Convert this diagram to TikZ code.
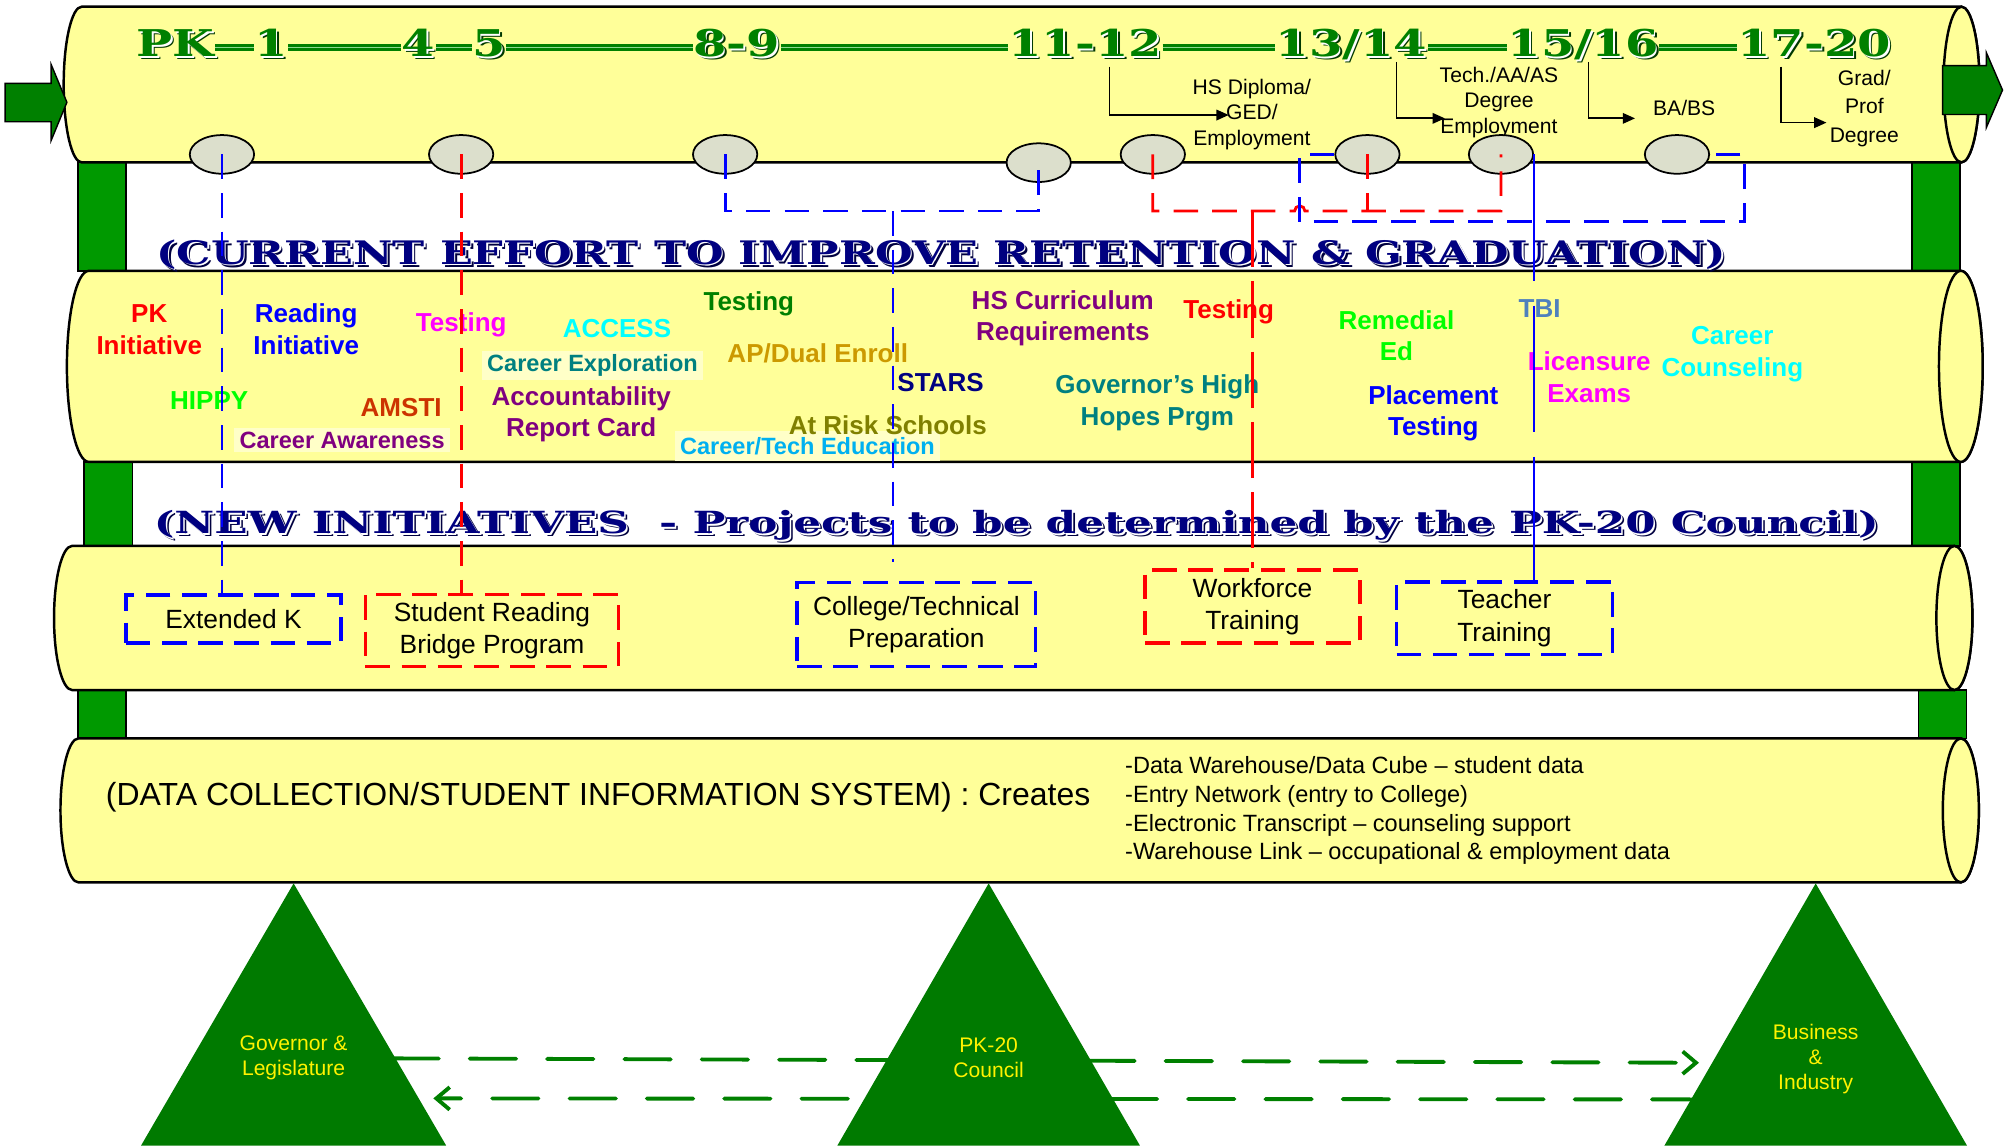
\documentclass[tikz,border=0pt]{standalone}
\usepackage{graphicx}
\usepackage{fontspec}
\setmainfont{Liberation Sans}
\newfontfamily\slabfont{DejaVu Serif}[FakeStretch=1.3]
\usetikzlibrary{shapes.geometric,arrows.meta}

\definecolor{tubeyellow}{HTML}{FFFF99}
\definecolor{palelabel}{HTML}{FFFFC8}
\definecolor{bargreen}{HTML}{009900}
\definecolor{arrowgreen}{HTML}{008000}
\definecolor{gradegreen}{HTML}{008000}
\definecolor{gradeshadow}{HTML}{003800}
\definecolor{gradelight}{HTML}{8FD88F}
\definecolor{headnavy}{HTML}{000080}
\definecolor{headshadow}{HTML}{000040}
\definecolor{stagegray}{HTML}{DCDFCC}
\definecolor{linkblue}{HTML}{0000FF}
\definecolor{linkred}{HTML}{FF0000}
\definecolor{pillargreen}{HTML}{007A00}
\definecolor{flowgreen}{HTML}{008000}
\definecolor{lbred}{HTML}{FF0000}
\definecolor{lbblue}{HTML}{0000FF}
\definecolor{lbmagenta}{HTML}{FF00FF}
\definecolor{lbcyan}{HTML}{00FFFF}
\definecolor{lbdkgreen}{HTML}{008000}
\definecolor{lbgreen}{HTML}{00FF00}
\definecolor{lbteal}{HTML}{008080}
\definecolor{lbgold}{HTML}{CC9900}
\definecolor{lbpurple}{HTML}{800080}
\definecolor{lbnavy}{HTML}{000080}
\definecolor{lbolive}{HTML}{808000}
\definecolor{lbsky}{HTML}{00B0F0}
\definecolor{lbrust}{HTML}{CC3300}
\definecolor{lbsteel}{HTML}{4F81BD}

% shadowed lettering
\newcommand{\emboss}[2]{%
  \rlap{\kern0.9pt\raisebox{-0.9pt}{\color{#1}#2}}%
  \rlap{\kern0.45pt\raisebox{-0.45pt}{\color{white}#2}}#2}

\tikzset{
  tube/.style={fill=tubeyellow, draw=black, line width=0.7pt},
  bar/.style={fill=bargreen, draw=black, line width=0.4pt},
  blockarrow/.style={fill=arrowgreen, draw=black, line width=0.4pt},
  heading/.style={font=\slabfont\bfseries, text=headnavy, inner sep=0pt},
  grade/.style={font=\slabfont\bfseries\fontsize{10.5}{12}\selectfont, text=gradegreen, inner sep=0pt, anchor=base},
  gradedash/.style={draw=gradegreen, line width=0.7pt, double=gradelight, double distance=0.5pt},
  outcome/.style={font=\fontsize{6}{7.2}\selectfont, align=center, inner sep=0pt},
  elbow/.style={line width=0.5pt, -{Triangle[length=3.5pt,width=3pt]}},
  stage/.style={ellipse, draw=black, line width=0.5pt, fill=stagegray, minimum width=18.3pt, minimum height=11pt, inner sep=0pt},
  effort/.style={font=\bfseries\fontsize{7.4}{9}\selectfont, align=center, inner sep=0pt},
  career/.style={effort, font=\bfseries\fontsize{6.7}{8}\selectfont, fill=palelabel, inner xsep=1.5pt, inner ysep=1pt},
  initbox/.style={line width=1pt, dash pattern=on 7pt off 3.3pt, font=\fontsize{7.5}{9.2}\selectfont, align=center, inner sep=0pt},
  bluebox/.style={initbox, draw=linkblue},
  redbox/.style={initbox, draw=linkred},
  bluelink/.style={draw=linkblue, line width=0.8pt, dash pattern=on 7pt off 4pt},
  redlink/.style={draw=linkred, line width=0.8pt, dash pattern=on 7pt off 4pt},
  bluelong/.style={draw=linkblue, line width=0.8pt, dash pattern=on 36pt off 7pt},
  redlong/.style={draw=linkred, line width=0.8pt, dash pattern=on 16pt off 4pt},
  datatext/.style={font=\fontsize{9.1}{11}\selectfont, inner sep=0pt},
  datalist/.style={font=\fontsize{6.7}{8.2}\selectfont, align=left, inner sep=0pt},
  pillar/.style={fill=pillargreen},
  pillartext/.style={text=yellow, font=\fontsize{6}{7.1}\selectfont, align=center, inner sep=0pt},
  flow/.style={draw=flowgreen, line width=1.1pt, line cap=round, dash pattern=on 13.2pt off 8.8pt, -{Straight Barb[length=3.8pt,width=6.4pt]}}
}

\begin{document}
\begin{tikzpicture}[x=0.366083pt, y=-0.366083pt]
    \path[use as bounding box, fill=white] (0,0) rectangle (1563,891.5);

    % green supports between the tubes
    \foreach \xa/\xb/\yt/\yb in {60.5/1486/126/210.5, 65.4/1486/359/424.3, 60.5/1491/536.3/573.9} {
        \path[bar] (\xa,\yt) rectangle (\xa+37.5,\yb);
        \path[bar] (\xb,\yt) rectangle (\xb+37.5,\yb);
    }

    % the four tubes
    \foreach \xl/\xr/\yt/\yb/\rx in {63.5/1524.5/5.2/126.2/14, 69/1524/210.5/359/17, 56/1519/424.3/536.3/14, 61/1524/573.9/685.8/14} {
        \pgfmathsetmacro\ry{(\yb-\yt)/2}
        \pgfmathsetmacro\ym{(\yb+\yt)/2}
        \path[tube] (\xl,\yt) -- (\xr,\yt) arc[start angle=-90, end angle=90, x radius=\rx, y radius=\ry]
            -- (\xl,\yb) arc[start angle=90, end angle=270, x radius=\rx, y radius=\ry] -- cycle;
        \path[tube] (\xr,\ym) ellipse[x radius=\rx, y radius=\ry];
    }

    % in and out arrows
    \path[blockarrow] (4,64.8) -- (39.7,64.8) -- (39.7,50) -- (52,79.5) -- (39.7,109.3) -- (39.7,94.6) -- (4,94.6) -- cycle;
    \path[blockarrow] (1509.8,51) -- (1543.9,51) -- (1543.9,41) -- (1556.4,70) -- (1543.9,99) -- (1543.9,89) -- (1509.8,89) -- cycle;

    % headings
    \node[heading, anchor=base west] (effort) at (121,205.5)
        {\resizebox{446.6pt}{7pt}{\emboss{headshadow}{(CURRENT EFFORT TO IMPROVE RETENTION \& GRADUATION)}}};
    \node[heading, anchor=base west] (newinit) at (119,415)
        {\resizebox{490.8pt}{6.6pt}{\emboss{headshadow}{(NEW INITIATIVES\ \ - Projects to be determined by the PK-20 Council)}}};

    % grade line
    \node[grade] (gpk) at (136.5,44) {\emboss{gradeshadow}{PK}};
    \node[grade] (g1) at (210.6,44) {\emboss{gradeshadow}{1}};
    \node[grade] (g4) at (325,44) {\emboss{gradeshadow}{4}};
    \node[grade] (g5) at (380,44) {\emboss{gradeshadow}{5}};
    \node[grade] (g89) at (572.5,44) {\emboss{gradeshadow}{8-9}};
    \node[grade] (g1112) at (843.5,44) {\emboss{gradeshadow}{11-12}};
    \node[grade] (g1314) at (1050.4,44) {\emboss{gradeshadow}{13/14}};
    \node[grade] (g1516) at (1230.5,44) {\emboss{gradeshadow}{15/16}};
    \node[grade] (g1720) at (1410,44) {\emboss{gradeshadow}{17-20}};
    \foreach \a/\b in {gpk/g1, g1/g4, g4/g5, g5/g89, g89/g1112, g1112/g1314, g1314/g1516, g1516/g1720}
        \draw[gradedash] ([yshift=2.6pt]\a.base east) -- ([yshift=2.6pt]\b.base west);

    % outcomes
    \node[outcome] (hsdip) at (973,89) {HS Diploma/\\GED/\\Employment};
    \node[outcome] (techdeg) at (1165,79.5) {Tech./AA/AS\\Degree\\Employment};
    \node[outcome] (babs) at (1309,84.2) {BA/BS};
    \node[outcome, font=\fontsize{6}{8.1}\selectfont] (grad) at (1449,84) {Grad/\\Prof\\Degree};
    \coordinate (es1) at (862.4,51.8);  \coordinate (et1) at (955,89.4);
    \coordinate (es2) at (1085.4,48);   \coordinate (et2) at (1123,92);
    \coordinate (es3) at (1234.7,48);   \coordinate (et3) at (1270.8,92);
    \coordinate (es4) at (1384.5,51.8); \coordinate (et4) at (1419.6,95.3);
    \foreach \i in {1,...,4}
        \draw[elbow] (es\i) |- (et\i);

    % stages
    \foreach \n/\x/\y in {1/172.5/120, 2/358.4/120, 3/563.6/120, 4/807.3/126.4, 5/896/120, 6/1062.8/120, 7/1166.6/120, 8/1303.4/120}
        \node[stage] (s\n) at (\x,\y) {};

    % current efforts
    \node[effort, text=lbred] (pkinit) at (116,256) {PK\\Initiative};
    \node[effort, text=lbblue] (readinit) at (238,256) {Reading\\Initiative};
    \node[effort, text=lbmagenta] (test1) at (358.5,252.6) {Testing};
    \node[effort, text=lbcyan] (access) at (479.5,255.7) {ACCESS};
    \node[effort, text=lbdkgreen] (test2) at (582,235.8) {Testing};
    \node[career, text=lbteal] (explore) at (460.5,283.7) {Career Exploration};
    \node[effort, text=lbgold] (apdual) at (635.6,274.6) {AP/Dual Enroll};
    \node[effort, text=lbnavy] (stars) at (731,297.4) {STARS};
    \node[effort, text=lbgreen] (hippy) at (162.6,311.4) {HIPPY};
    \node[effort, text=lbrust] (amsti) at (311.8,316.9) {AMSTI};
    \node[career, text=lbpurple] (aware) at (265.9,342) {Career Awareness};
    \node[effort, text=lbpurple] (account) at (451.7,322) {Accountability\\Report Card};
    \node[career, text=lbsky, inner ysep=1.8pt] (cartech) at (627.6,346.5) {Career/Tech Education};
    \node[effort, text=lbolive] (atrisk) at (690,330.4) {At Risk Schools};
    \node[effort, text=lbpurple] (hscurr) at (826,247.5) {HS Curriculum\\Requirements};
    \node[effort, text=lbred] (test3) at (955,242.3) {Testing};
    \node[effort, text=lbgreen] (remed) at (1085.4,261) {Remedial\\Ed};
    \node[effort, text=lbsteel] (tbi) at (1196.6,239.7) {TBI};
    \node[effort, text=lbcyan] (counsel) at (1346.4,275.3) {Career\\Counseling};
    \node[effort, text=lbteal] (hihopes) at (899.5,313) {Governor’s High\\Hopes Prgm};
    \node[effort, text=lbblue] (place) at (1114,321.3) {Placement\\Testing};
    \node[effort, text=lbmagenta] (licens) at (1235.2,293.4) {Licensure\\Exams};

    % new initiatives
    \node[bluebox, minimum width=61.3pt, minimum height=13.7pt] (extk) at (181.5,481) {Extended K};
    \node[redbox, minimum width=72pt, minimum height=20.5pt] (bridge) at (382.4,490) {Student Reading\\Bridge Program};
    \node[bluebox, minimum width=67.8pt, minimum height=24pt] (college) at (712.2,485.4) {College/Technical\\Preparation};
    \node[redbox, minimum width=61.1pt, minimum height=20.7pt] (workforce) at (973.4,471.3) {Workforce\\Training};
    \node[bluebox, minimum width=61.4pt, minimum height=20.5pt] (teacher) at (1169.3,480.5) {Teacher\\Training};

    % data collection
    \node[datatext, anchor=west] (dcs) at (81.8,620) {(DATA COLLECTION/STUDENT INFORMATION SYSTEM) : Creates};
    \node[datalist, anchor=west] (dlist) at (874,630) {-Data Warehouse/Data Cube – student data\\-Entry Network (entry to College)\\-Electronic Transcript – counseling support\\-Warehouse Link – occupational \& employment data};

    % links from the stages
    \draw[bluelink] (s1.center) -- (s1.center |- extk.north);
    \draw[redlink] (s2.center) -- (s2.center |- bridge.north);
    \coordinate (bu) at (694,164);
    \coordinate (buend) at (694,436.5);
    \draw[bluelink] (s3.center) |- (bu) -| (s4.center);
    \draw[bluelink] (bu) -- (buend);
    \coordinate (ru) at (973.4,164);
    \coordinate (hop) at (1006.2,164);
    \draw[redlink] (s5.center) |- (hop) arc[start angle=180, end angle=360, radius=4] -| (s7.center);
    \draw[redlink] (s6.center) -- (s6.center |- ru);
    \draw[redlong] (ru) -- (ru |- workforce.north);
    \coordinate (bl) at (1010.2,172.3);
    \coordinate (br) at (1356,172.3);
    \draw[bluelink] (s6.west) -| (bl) -- (br) |- (s8.east);
    \draw[bluelong] (s7.east) -- (s7.east |- teacher.north);

    % partners
    \coordinate (flowAs) at (305,822.6);  \coordinate (flowAe) at (1320.5,826);
    \coordinate (flowBs) at (1320,854.5); \coordinate (flowBe) at (336.8,853.7);
    \draw[flow] (flowAs) -- (flowAe);
    \draw[flow] (flowBs) -- (flowBe);
    \path[pillar] (228.2,686.6) -- (346.8,890.4) -- (109.6,890.4) -- cycle;
    \path[pillar] (768.4,686.6) -- (886,890.4) -- (650.8,890.4) -- cycle;
    \path[pillar] (1411.2,686.6) -- (1528.8,890.4) -- (1293.6,890.4) -- cycle;
    \node[pillartext] (gov) at (228.2,822) {Governor \&\\Legislature};
    \node[pillartext] (council) at (768.4,822) {PK-20\\Council};
    \node[pillartext] (business) at (1411.2,823) {Business\\\&\\Industry};

\end{tikzpicture}
\end{document}
